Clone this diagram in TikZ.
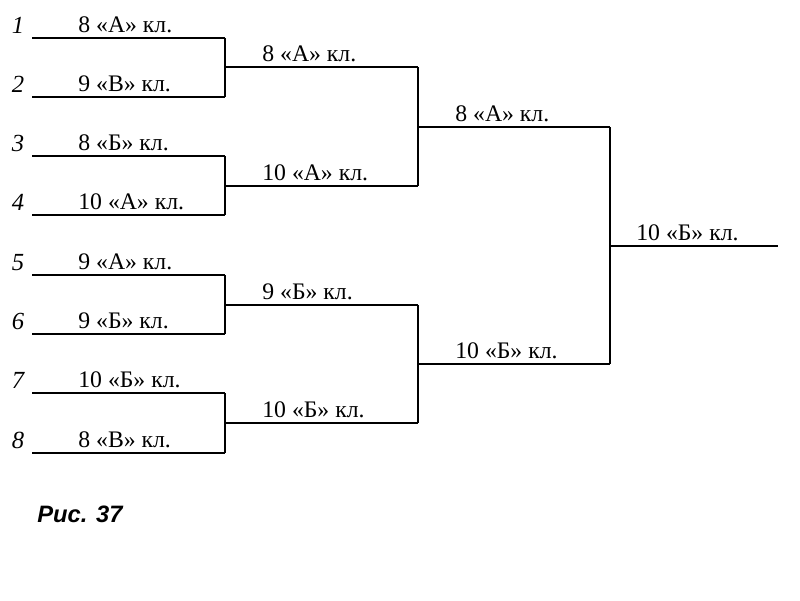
\documentclass[tikz,border=0pt]{standalone}
\usepackage{fontspec}
\setmainfont{Liberation Serif}
\newfontfamily\captionfont{Liberation Sans}
\usetikzlibrary{positioning,calc}
\tikzset{
  bracketline/.style={line width=1.2pt, black},
  teamlabel/.style={font=\fontsize{13.5}{15}\selectfont, anchor=base west, inner sep=0pt},
  seednum/.style={font=\fontsize{14}{16}\selectfont\itshape, anchor=base, inner sep=0pt},
  figcaption/.style={font=\captionfont\bfseries\itshape\fontsize{13.5}{15}\selectfont, anchor=base west, inner sep=0pt}
}

\begin{document}
\begin{tikzpicture}[x=0.02cm, y=-0.02cm]
  \useasboundingbox (0,0) rectangle (800,600);
  % first round
  \coordinate (s1) at (32,38);   \coordinate (e1) at (225,38);
  \coordinate (s2) at (32,97);   \coordinate (e2) at (225,97);
  \coordinate (s3) at (32,156);  \coordinate (e3) at (225,156);
  \coordinate (s4) at (32,215);  \coordinate (e4) at (225,215);
  \coordinate (s5) at (32,275);  \coordinate (e5) at (225,275);
  \coordinate (s6) at (32,334);  \coordinate (e6) at (225,334);
  \coordinate (s7) at (32,393);  \coordinate (e7) at (225,393);
  \coordinate (s8) at (32,453);  \coordinate (e8) at (225,453);
  \node[seednum] (n1) at (18,33) {1};
  \node[seednum] (n2) at (18,92) {2};
  \node[seednum] (n3) at (18,151) {3};
  \node[seednum] (n4) at (18,210) {4};
  \node[seednum] (n5) at (18,270) {5};
  \node[seednum] (n6) at (18,329) {6};
  \node[seednum] (n7) at (18,388) {7};
  \node[seednum] (n8) at (18,448) {8};
  \node[teamlabel] (t1) at (78,32) {8 «А» кл.};
  \node[teamlabel] (t2) at (78,91) {9 «В» кл.};
  \node[teamlabel] (t3) at (78,150) {8 «Б» кл.};
  \node[teamlabel] (t4) at (78,209) {10 «А» кл.};
  \node[teamlabel] (t5) at (78,269) {9 «А» кл.};
  \node[teamlabel] (t6) at (78,328) {9 «Б» кл.};
  \node[teamlabel] (t7) at (78,387) {10 «Б» кл.};
  \node[teamlabel] (t8) at (78,447) {8 «В» кл.};
  \foreach \i in {1,...,8}
    \draw[bracketline] (s\i) -- (e\i);
  % second round
  \coordinate (q1) at (225,67);  \coordinate (r1) at (418,67);
  \coordinate (q2) at (225,186); \coordinate (r2) at (418,186);
  \coordinate (q3) at (225,305); \coordinate (r3) at (418,305);
  \coordinate (q4) at (225,423); \coordinate (r4) at (418,423);
  \draw[bracketline] (e1) -- (e2);
  \draw[bracketline] (e3) -- (e4);
  \draw[bracketline] (e5) -- (e6);
  \draw[bracketline] (e7) -- (e8);
  \foreach \i in {1,...,4}
    \draw[bracketline] (q\i) -- (r\i);
  \node[teamlabel] (w1) at (262,61) {8 «А» кл.};
  \node[teamlabel] (w2) at (262,180) {10 «А» кл.};
  \node[teamlabel] (w3) at (262,299) {9 «Б» кл.};
  \node[teamlabel] (w4) at (262,417) {10 «Б» кл.};
  % semifinal
  \coordinate (p1) at (418,127); \coordinate (u1) at (610,127);
  \coordinate (p2) at (418,364); \coordinate (u2) at (610,364);
  \draw[bracketline] (r1) -- (r2);
  \draw[bracketline] (r3) -- (r4);
  \draw[bracketline] (p1) -- (u1);
  \draw[bracketline] (p2) -- (u2);
  \node[teamlabel] (f1) at (455,121) {8 «А» кл.};
  \node[teamlabel] (f2) at (455,358) {10 «Б» кл.};
  % final
  \coordinate (c1) at (610,246); \coordinate (c2) at (778,246);
  \draw[bracketline] (u1) -- (u2);
  \draw[bracketline] (c1) -- (c2);
  \node[teamlabel] (champ) at (636,240) {10 «Б» кл.};
  \node[figcaption] (cap) at (37,522) {Рис. 37};
\end{tikzpicture}
\end{document}
